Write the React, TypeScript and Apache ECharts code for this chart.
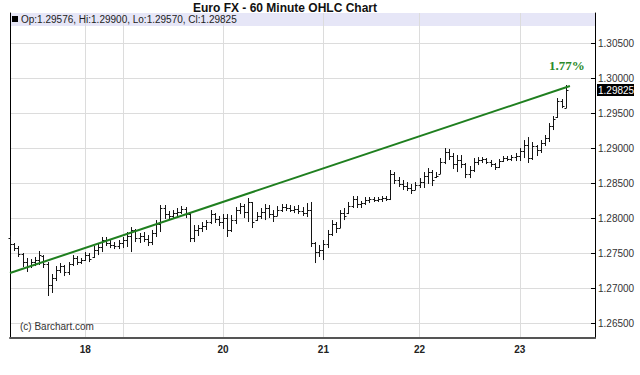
import React, { useEffect, useRef } from 'react';
import * as echarts from 'echarts';

// ---- data ----
const titleText = 'Euro FX - 60 Minute OHLC Chart';
const creditText = '(c) Barchart.com';
const trendChangeLabel = '1.77%';

// hourly bars (category index = hour slot)
const slotCount = 141;
const dayStartIndex = [18, 27, 51, 75, 98, 122];
const dayLabels = ['18', '', '20', '21', '22', '23'];

const opens = [
  1.27714, 1.27629, 1.27571, 1.27486, 1.27371, 1.27314, 1.27371, 1.27400, 1.27457, 1.27343,
  1.27043, 1.27143, 1.27257, 1.27314, 1.27229, 1.27343, 1.27429, 1.27371, 1.27400, 1.27471,
  1.27443, 1.27543, 1.27586, 1.27686, 1.27643, 1.27614, 1.27600, 1.27643, 1.27686, 1.27743,
  1.27829, 1.27714, 1.27743, 1.27700, 1.27657, 1.27786, 1.27914, 1.28143, 1.28057, 1.28029,
  1.28071, 1.28086, 1.28129, 1.28057, 1.27714, 1.27829, 1.27857, 1.27886, 1.27943, 1.28057,
  1.27986, 1.27943, 1.28000, 1.27829, 1.27971, 1.28114, 1.28171, 1.28086, 1.28229, 1.27971,
  1.28029, 1.28086, 1.28143, 1.28057, 1.28029, 1.28114, 1.28157, 1.28143, 1.28114, 1.28129,
  1.28100, 1.28071, 1.28114, 1.27643, 1.27514, 1.27543, 1.27629, 1.27771, 1.27914, 1.27857,
  1.28071, 1.28071, 1.28171, 1.28271, 1.28200, 1.28214, 1.28257, 1.28271, 1.28257, 1.28271,
  1.28286, 1.28271, 1.28629, 1.28543, 1.28486, 1.28457, 1.28429, 1.28400, 1.28471, 1.28514,
  1.28600, 1.28657, 1.28586, 1.28629, 1.28800, 1.28943, 1.28886, 1.28771, 1.28829, 1.28771,
  1.28629, 1.28686, 1.28800, 1.28829, 1.28843, 1.28800, 1.28771, 1.28729, 1.28814, 1.28857,
  1.28843, 1.28871, 1.28886, 1.28957, 1.29043, 1.28857, 1.29029, 1.28971, 1.29071, 1.29143,
  1.29314, 1.29443, 1.29671, 1.29576,
];
const highs = [
  1.27743, 1.27643, 1.27600, 1.27500, 1.27429, 1.27414, 1.27443, 1.27529, 1.27471, 1.27371,
  1.27200, 1.27314, 1.27357, 1.27329, 1.27371, 1.27471, 1.27457, 1.27429, 1.27514, 1.27500,
  1.27600, 1.27629, 1.27729, 1.27729, 1.27700, 1.27657, 1.27686, 1.27729, 1.27800, 1.27871,
  1.27843, 1.27786, 1.27800, 1.27757, 1.27829, 1.27971, 1.28186, 1.28186, 1.28100, 1.28114,
  1.28143, 1.28171, 1.28157, 1.28071, 1.27900, 1.27900, 1.27943, 1.27971, 1.28114, 1.28071,
  1.28029, 1.28057, 1.28057, 1.28043, 1.28157, 1.28214, 1.28200, 1.28286, 1.28229, 1.28086,
  1.28143, 1.28200, 1.28186, 1.28114, 1.28171, 1.28200, 1.28200, 1.28186, 1.28171, 1.28186,
  1.28157, 1.28214, 1.28229, 1.27657, 1.27614, 1.27686, 1.27829, 1.27971, 1.27943, 1.28114,
  1.28143, 1.28229, 1.28314, 1.28314, 1.28243, 1.28300, 1.28300, 1.28300, 1.28300, 1.28314,
  1.28314, 1.28686, 1.28657, 1.28586, 1.28543, 1.28514, 1.28486, 1.28514, 1.28571, 1.28657,
  1.28714, 1.28686, 1.28657, 1.28857, 1.29000, 1.28986, 1.28929, 1.28900, 1.28900, 1.28786,
  1.28743, 1.28857, 1.28871, 1.28871, 1.28857, 1.28829, 1.28786, 1.28843, 1.28886, 1.28886,
  1.28900, 1.28929, 1.29000, 1.29114, 1.29157, 1.29086, 1.29043, 1.29114, 1.29186, 1.29357,
  1.29457, 1.29714, 1.29700, 1.29900,
];
const lows = [
  1.27586, 1.27529, 1.27443, 1.27300, 1.27229, 1.27286, 1.27314, 1.27329, 1.27286, 1.26886,
  1.26929, 1.27100, 1.27214, 1.27171, 1.27186, 1.27314, 1.27329, 1.27343, 1.27386, 1.27371,
  1.27429, 1.27471, 1.27514, 1.27600, 1.27571, 1.27557, 1.27557, 1.27571, 1.27586, 1.27514,
  1.27657, 1.27643, 1.27657, 1.27600, 1.27614, 1.27729, 1.27800, 1.27986, 1.27986, 1.28000,
  1.28014, 1.28057, 1.28000, 1.27657, 1.27657, 1.27743, 1.27800, 1.27829, 1.27914, 1.27929,
  1.27886, 1.27843, 1.27729, 1.27800, 1.27914, 1.28057, 1.28000, 1.27943, 1.27857, 1.27957,
  1.27986, 1.27971, 1.28000, 1.27943, 1.28029, 1.28086, 1.28100, 1.28086, 1.28071, 1.28057,
  1.28029, 1.28014, 1.27586, 1.27357, 1.27443, 1.27400, 1.27571, 1.27743, 1.27786, 1.27857,
  1.27971, 1.28057, 1.28143, 1.28143, 1.28143, 1.28186, 1.28214, 1.28229, 1.28229, 1.28229,
  1.28243, 1.28257, 1.28486, 1.28443, 1.28400, 1.28386, 1.28343, 1.28400, 1.28429, 1.28429,
  1.28486, 1.28457, 1.28571, 1.28629, 1.28771, 1.28829, 1.28700, 1.28657, 1.28714, 1.28571,
  1.28571, 1.28657, 1.28757, 1.28786, 1.28771, 1.28729, 1.28686, 1.28714, 1.28800, 1.28814,
  1.28814, 1.28814, 1.28814, 1.28857, 1.28786, 1.28829, 1.28886, 1.28929, 1.29029, 1.29086,
  1.29257, 1.29429, 1.29571, 1.29570,
];
const closes = [
  1.27629, 1.27571, 1.27486, 1.27371, 1.27314, 1.27371, 1.27400, 1.27471, 1.27343, 1.27043,
  1.27143, 1.27257, 1.27314, 1.27229, 1.27343, 1.27429, 1.27371, 1.27400, 1.27471, 1.27414,
  1.27543, 1.27586, 1.27686, 1.27643, 1.27614, 1.27600, 1.27643, 1.27686, 1.27743, 1.27829,
  1.27714, 1.27743, 1.27700, 1.27657, 1.27786, 1.27914, 1.28143, 1.28057, 1.28029, 1.28071,
  1.28086, 1.28129, 1.28057, 1.27714, 1.27829, 1.27857, 1.27886, 1.27943, 1.28057, 1.27986,
  1.27943, 1.28000, 1.27829, 1.27971, 1.28114, 1.28171, 1.28086, 1.28229, 1.27943, 1.28029,
  1.28086, 1.28143, 1.28057, 1.28029, 1.28114, 1.28157, 1.28143, 1.28114, 1.28129, 1.28100,
  1.28071, 1.28114, 1.27643, 1.27514, 1.27543, 1.27629, 1.27771, 1.27914, 1.27857, 1.28071,
  1.28029, 1.28171, 1.28271, 1.28200, 1.28214, 1.28257, 1.28271, 1.28257, 1.28271, 1.28286,
  1.28271, 1.28629, 1.28543, 1.28486, 1.28457, 1.28429, 1.28400, 1.28471, 1.28514, 1.28600,
  1.28657, 1.28543, 1.28600, 1.28800, 1.28943, 1.28886, 1.28771, 1.28829, 1.28771, 1.28629,
  1.28686, 1.28800, 1.28829, 1.28843, 1.28800, 1.28771, 1.28729, 1.28814, 1.28857, 1.28843,
  1.28871, 1.28886, 1.28957, 1.29043, 1.28857, 1.29029, 1.28971, 1.29071, 1.29143, 1.29314,
  1.29414, 1.29671, 1.29600, 1.29825,
];

// trend line endpoints (slot index, price)
const trendIndex = [0, 134];
const trendValue = [1.27214, 1.29886];

// price axis
const yMin = 1.26286;
const yMax = 1.30929;
const yStep = 0.005;

const FONT = 'Arial, "Liberation Sans", sans-serif';

export default function App() {
  const ref = useRef<HTMLDivElement>(null);

  useEffect(() => {
    if (!ref.current) return;
    const chart = echarts.init(ref.current, null, { renderer: 'svg' });

    const categories = Array.from({ length: slotCount }, (_, i) => String(i));
    const isDayStart = (index: number) => dayStartIndex.indexOf(index) >= 0;
    const ohlc = opens.map((o, i) => [i, o, highs[i], lows[i], closes[i]]);
    const last = opens.length - 1;
    const legendText = `Op:${opens[last].toFixed(5)}, Hi:${highs[last].toFixed(5)}, Lo:${lows[last].toFixed(5)}, Cl:${closes[last].toFixed(5)}`;
    const trendData = trendIndex.map((idx, k) => [idx, trendValue[k]]);

    const baseGraphic: any[] = [
      {
        id: 'band',
        type: 'rect',
        z: -1,
        shape: { x: 10, y: 13, width: 585, height: 13 },
        style: { fill: '#e6e6f7' },
      },
      {
        id: 'legendBox',
        type: 'rect',
        z: 100,
        shape: { x: 12, y: 16, width: 6, height: 6 },
        style: { fill: '#000' },
      },
      {
        id: 'legendText',
        type: 'text',
        z: 100,
        x: 21,
        y: 19.5,
        style: { text: legendText, fontFamily: FONT, fontSize: 10, fill: '#222', verticalAlign: 'middle' },
      },
      {
        id: 'credit',
        type: 'text',
        z: 100,
        x: 20,
        y: 326,
        style: { text: creditText, fontFamily: FONT, fontSize: 10, fill: '#333', verticalAlign: 'middle' },
      },
      {
        id: 'trendPct',
        type: 'text',
        z: 100,
        x: 549,
        y: 65,
        style: {
          text: trendChangeLabel,
          fontFamily: '"Times New Roman", "Liberation Serif", serif',
          fontSize: 13,
          fontWeight: 'bold',
          fill: '#2a8a2a',
          verticalAlign: 'middle',
        },
      },
    ];

    const option: any = {
      animation: false,
      backgroundColor: '#fff',
      title: {
        text: titleText,
        left: 193,
        top: 2,
        padding: 0,
        textStyle: { fontFamily: FONT, fontSize: 12, fontWeight: 'bold', color: '#111' },
      },
      grid: { left: 10, right: 45, top: 13, bottom: 37 },
      xAxis: {
        type: 'category',
        data: categories,
        boundaryGap: false,
        axisLine: { show: true, onZero: false, lineStyle: { color: '#555', width: 2 } },
        axisTick: { show: false },
        axisLabel: {
          interval: (index: number) => isDayStart(index),
          formatter: (_v: string, index: number) => {
            const k = dayStartIndex.indexOf(index);
            return k >= 0 ? dayLabels[k] : '';
          },
          fontFamily: FONT,
          fontSize: 10,
          fontWeight: 'bold',
          color: '#222',
          margin: 6,
        },
        splitLine: {
          show: true,
          interval: (index: number) => isDayStart(index),
          lineStyle: { color: '#dcdcdc', width: 1 },
        },
      },
      yAxis: [
        {
          type: 'value',
          position: 'right',
          min: yMin,
          max: yMax,
          minInterval: yStep,
          maxInterval: yStep,
          splitNumber: 9,
          axisLine: { show: true, lineStyle: { color: '#000', width: 1 } },
          axisTick: { show: true, inside: true, length: 4, lineStyle: { color: '#000' } },
          axisLabel: {
            showMinLabel: false,
            showMaxLabel: false,
            formatter: (v: number) => v.toFixed(5),
            fontFamily: FONT,
            fontSize: 10,
            color: '#333',
            margin: 3,
          },
          splitLine: {
            show: true,
            showMinLine: false,
            showMaxLine: false,
            lineStyle: { color: '#dcdcdc', width: 1 },
          },
        },
        {
          type: 'value',
          position: 'left',
          min: yMin,
          max: yMax,
          axisLine: { show: true, lineStyle: { color: '#000', width: 1 } },
          axisTick: { show: false },
          axisLabel: { show: false },
          splitLine: { show: false },
        },
      ],
      series: [
        {
          type: 'custom',
          data: ohlc,
          encode: { x: 0, y: [1, 2, 3, 4] },
          renderItem: (_params: any, api: any) => {
            const idx = api.value(0);
            const po = api.coord([idx, api.value(1)]);
            const ph = api.coord([idx, api.value(2)]);
            const pl = api.coord([idx, api.value(3)]);
            const pc = api.coord([idx, api.value(4)]);
            const x = Math.round(po[0]) + 0.5;
            const yo = Math.round(po[1]) + 0.5;
            const yc = Math.round(pc[1]) + 0.5;
            const style = { stroke: '#141414', lineWidth: 1 };
            return {
              type: 'group',
              children: [
                { type: 'line', shape: { x1: x, y1: ph[1], x2: x, y2: pl[1] }, style },
                { type: 'line', shape: { x1: x - 2, y1: yo, x2: x, y2: yo }, style },
                { type: 'line', shape: { x1: x, y1: yc, x2: x + 2, y2: yc }, style },
              ],
            };
          },
          z: 3,
        },
        {
          type: 'line',
          data: trendData,
          symbol: 'none',
          lineStyle: { color: '#1f7f1f', width: 2 },
          z: 4,
        },
      ],
      graphic: baseGraphic,
    };

    chart.setOption(option);

    // last-price tag on the price axis, positioned through the axis scale
    const py = chart.convertToPixel({ yAxisIndex: 0 }, closes[last]) as number;
    const gridRight = 640 - 45;
    if (typeof py === 'number' && isFinite(py)) {
      chart.setOption({
        graphic: [
          ...baseGraphic,
          {
            id: 'priceBox',
            type: 'rect',
            z: 100,
            shape: { x: gridRight + 2, y: Math.round(py) - 6, width: 37, height: 12 },
            style: { fill: '#000' },
          },
          {
            id: 'priceText',
            type: 'text',
            z: 101,
            x: gridRight + 3,
            y: Math.round(py) + 0.5,
            style: {
              text: closes[last].toFixed(5),
              fontFamily: FONT,
              fontSize: 10,
              fill: '#fff',
              verticalAlign: 'middle',
            },
          },
        ],
      });
    }
    return () => chart.dispose();
  }, []);

  return (
    <div
      ref={ref}
      style={{ position: 'fixed', left: 0, top: 0, width: 640, height: 375, background: '#fff' }}
    />
  );
}
